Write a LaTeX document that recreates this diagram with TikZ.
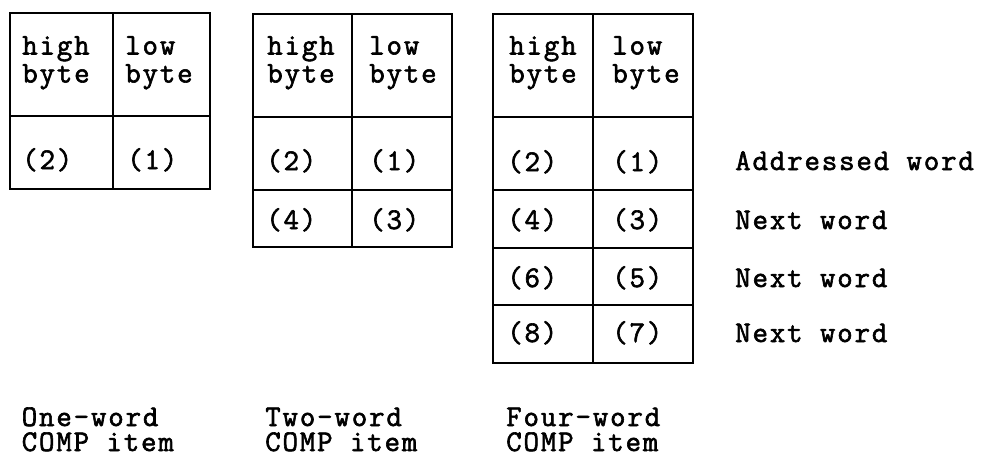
\documentclass[tikz,border=0pt]{standalone}
\usepackage{fontspec}
\setmonofont{Latin Modern Mono}[FakeBold=2, LetterSpace=6.2]
\begin{document}
\begin{tikzpicture}[x=0.75pt,y=-0.75pt,
  cell/.style={draw, line width=1.8pt, anchor=north west, inner sep=0pt, outer sep=0pt},
  txt/.style={anchor=base west, inner sep=0pt, align=left,
    font=\ttfamily\fontsize{22.5}{21}\selectfont},
  captxt/.style={txt, font=\ttfamily\fontsize{22.5}{18.75}\selectfont}]
\useasboundingbox (0,0) rectangle (981,457);

% One-word item
\node[cell, minimum width=103*0.75pt, minimum height=103*0.75pt] (a-h) at (10,13) {};
\node[cell, minimum width=97*0.75pt,  minimum height=103*0.75pt] (a-l) at (113,13) {};
\node[cell, minimum width=103*0.75pt, minimum height=73*0.75pt]  (a-2) at (10,116) {};
\node[cell, minimum width=97*0.75pt,  minimum height=73*0.75pt]  (a-1) at (113,116) {};
\node[txt] (a-ht) at (22,82.5) {high\\byte};
\node[txt] (a-lt) at (125,82.5) {low\\byte};
\node[txt] (a-2t) at (22,169) {(2)};
\node[txt] (a-1t) at (127,169) {(1)};

% Two-word item
\node[cell, minimum width=99*0.75pt,  minimum height=103*0.75pt] (b-h) at (253,14) {};
\node[cell, minimum width=100*0.75pt, minimum height=103*0.75pt] (b-l) at (352,14) {};
\node[cell, minimum width=99*0.75pt,  minimum height=73*0.75pt]  (b-2) at (253,117) {};
\node[cell, minimum width=100*0.75pt, minimum height=73*0.75pt]  (b-1) at (352,117) {};
\node[cell, minimum width=99*0.75pt,  minimum height=57*0.75pt]  (b-4) at (253,190) {};
\node[cell, minimum width=100*0.75pt, minimum height=57*0.75pt]  (b-3) at (352,190) {};
\node[txt] (b-ht) at (267,82.5) {high\\byte};
\node[txt] (b-lt) at (369,82.5) {low\\byte};
\node[txt] (b-2t) at (266,170) {(2)};
\node[txt] (b-1t) at (369,170) {(1)};
\node[txt] (b-4t) at (266,229) {(4)};
\node[txt] (b-3t) at (369,229) {(3)};

% Four-word item
\node[cell, minimum width=100*0.75pt, minimum height=103*0.75pt] (c-h) at (493,14) {};
\node[cell, minimum width=100*0.75pt, minimum height=103*0.75pt] (c-l) at (593,14) {};
\node[cell, minimum width=100*0.75pt, minimum height=73*0.75pt]  (c-2) at (493,117) {};
\node[cell, minimum width=100*0.75pt, minimum height=73*0.75pt]  (c-1) at (593,117) {};
\node[cell, minimum width=100*0.75pt, minimum height=58*0.75pt]  (c-4) at (493,190) {};
\node[cell, minimum width=100*0.75pt, minimum height=58*0.75pt]  (c-3) at (593,190) {};
\node[cell, minimum width=100*0.75pt, minimum height=57*0.75pt]  (c-6) at (493,248) {};
\node[cell, minimum width=100*0.75pt, minimum height=57*0.75pt]  (c-5) at (593,248) {};
\node[cell, minimum width=100*0.75pt, minimum height=58*0.75pt]  (c-8) at (493,305) {};
\node[cell, minimum width=100*0.75pt, minimum height=58*0.75pt]  (c-7) at (593,305) {};
\node[txt] (c-ht) at (509,82.5) {high\\byte};
\node[txt] (c-lt) at (612,82.5) {low\\byte};
\node[txt] (c-2t) at (507,171) {(2)};
\node[txt] (c-1t) at (612,171) {(1)};
\node[txt] (c-4t) at (507,229) {(4)};
\node[txt] (c-3t) at (612,229) {(3)};
\node[txt] (c-6t) at (507,287) {(6)};
\node[txt] (c-5t) at (612,287) {(5)};
\node[txt] (c-8t) at (507,342) {(8)};
\node[txt] (c-7t) at (612,342) {(7)};

% word labels
\node[txt] (w1) at (735,170) {Addressed word};
\node[txt] (w2) at (735,229) {Next word};
\node[txt] (w3) at (735,287) {Next word};
\node[txt] (w4) at (735,342) {Next word};

% captions
\node[captxt] (capa) at (21.5,451) {One-word\\COMP item};
\node[captxt] (capb) at (265,451) {Two-word\\COMP item};
\node[captxt] (capc) at (506,451) {Four-word\\COMP item};
\end{tikzpicture}
\end{document}
